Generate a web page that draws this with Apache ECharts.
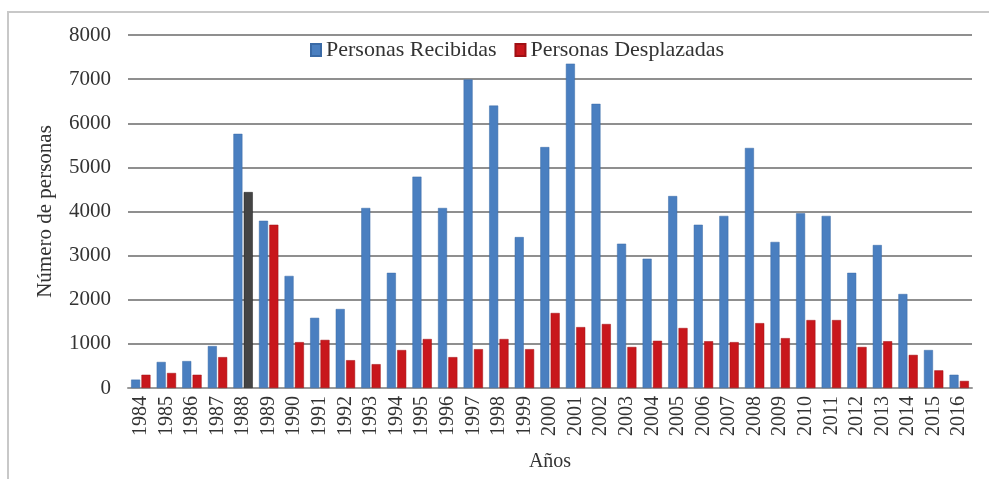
<!DOCTYPE html>
<html><head><meta charset="utf-8">
<script src="https://cdn.jsdelivr.net/npm/echarts@6/dist/echarts.min.js"></script>
<style>
html,body{margin:0;padding:0;background:#fff;}
#frame{position:absolute;left:7px;top:11px;width:990px;height:480px;border:2px solid #c8c8c8;box-sizing:border-box;}
#c{position:absolute;left:0;top:0;width:989px;height:479px;}
</style></head>
<body>
<div id="frame"></div>
<div id="c"></div>
<script>
const years = ['1984','1985','1986','1987','1988','1989','1990','1991','1992','1993','1994','1995','1996','1997','1998','1999','2000','2001','2002','2003','2004','2005','2006','2007','2008','2009','2010','2011','2012','2013','2014','2015','2016'];
const recibidas = [190,590,610,950,5760,3790,2540,1590,1790,4080,2610,4790,4080,6990,6400,3420,5460,7350,6440,3270,2930,4350,3700,3900,5440,3310,3960,3900,2610,3240,2130,860,300];
const desplazadas = [300,340,300,700,4440,3700,1040,1090,630,540,860,1110,700,880,1110,880,1700,1380,1450,930,1070,1360,1060,1040,1470,1130,1540,1540,930,1060,750,400,160];
const yTicks = [0,1000,2000,3000,4000,5000,6000,7000,8000];
const highlightYear = '1988';

const font = '"Liberation Serif","DejaVu Serif",serif';
const chart = echarts.init(document.getElementById('c'), null, {renderer:'canvas'});
chart.setOption({
  animation:false,
  backgroundColor:'transparent',
  grid:{left:128,right:17,top:35,bottom:91,containLabel:false,outerBoundsMode:'none'},
  legend:{
    top:34,left:305,itemWidth:10,itemHeight:12,itemGap:18,
    textStyle:{fontFamily:font,fontSize:22,color:'#333'},
    icon:'rect',
    data:['Personas Recibidas','Personas Desplazadas']
  },
  xAxis:{
    type:'category',data:years,
    name:'Años',nameLocation:'middle',nameGap:64,
    nameTextStyle:{fontFamily:font,fontSize:20,color:'#333'},
    axisTick:{show:false},
    axisLine:{lineStyle:{color:'#999',width:2}},
    axisLabel:{rotate:90,fontFamily:font,fontSize:20,color:'#333',margin:8,interval:0}
  },
  yAxis:{
    type:'value',min:yTicks[0],max:yTicks[yTicks.length-1],interval:1000,
    name:'Número de personas',nameLocation:'middle',nameGap:72,
    nameTextStyle:{fontFamily:font,fontSize:21,color:'#333'},
    axisLine:{show:false},axisTick:{show:false},
    axisLabel:{fontFamily:font,fontSize:21,color:'#333',margin:17,formatter:v=>String(v)},
    splitLine:{lineStyle:{color:'#8f8f8f',width:2}}
  },
  series:[
    {name:'Personas Recibidas',type:'bar',data:recibidas,barWidth:9,barGap:'15%',
     itemStyle:{color:'#4a7fc0',borderColor:'#3a6aa6',borderWidth:0.5}},
    {name:'Personas Desplazadas',type:'bar',data:desplazadas.map((v,i)=>years[i]===highlightYear?{value:v,itemStyle:{color:'#444',borderColor:'#222'}}:v),barWidth:9,
     itemStyle:{color:'#c8171c',borderColor:'#a01014',borderWidth:0.5}}
  ]
});
</script>
</body></html>
